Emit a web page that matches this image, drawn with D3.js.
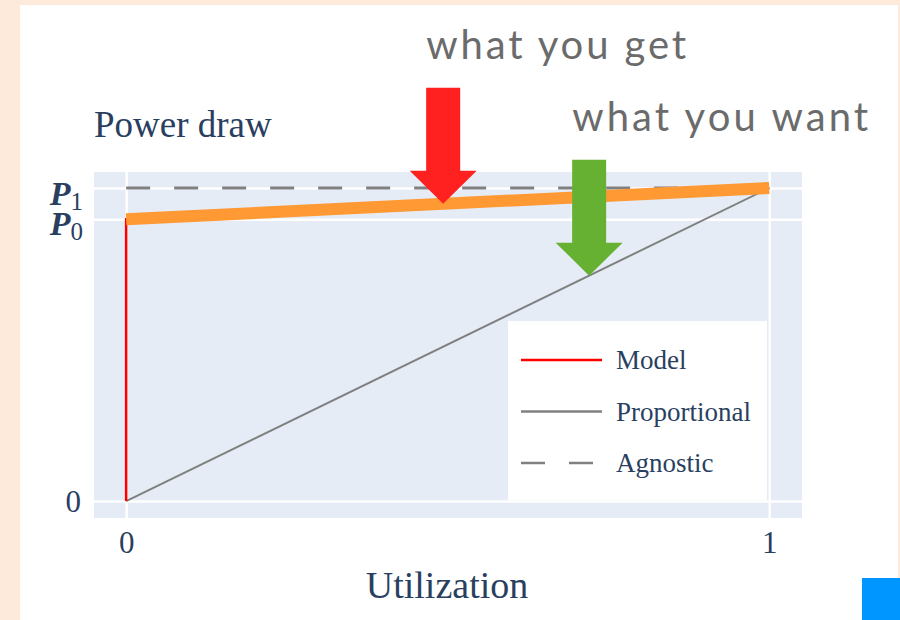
<!DOCTYPE html>
<html>
<head>
<meta charset="utf-8">
<script src="https://cdn.jsdelivr.net/npm/d3@7"></script>
<style>
  body { margin: 0; background: #fdeada; }
  svg { display: block; }
</style>
</head>
<body>
<div id="chart"></div>
<script>
/* Power draw vs utilization: model, proportional and agnostic lines */

// idle and peak power, utilization range
const P0 = 0.9, P1 = 1;

// series
const modelX = [0, 0, 1], modelY = [0, P0, P1];
const propX = [0, 1], propY = [0, P1];
const agnX = [0, 1], agnY = [P1, P1];

// tick labels
const yTicks = [0, P0, P1];
const yTickLabels = ["0", "P0", "P1"];
const xTicks = [0, 1];
const xTickLabels = ["0", "1"];

// arrow annotations (tip in data coords)
const arrowTexts = ["what you get", "what you want"];
const arrowTipX = [0.493, 0.72];
const arrowTipY = [0.95, 0.72];
const arrowTextWidth = [260, 296];
const arrowColors = ["#ff2020", "#66b032"];

const legendNames = ["Model", "Proportional", "Agnostic"];

const width = 900, height = 620,
      margin = ({ top: 172, right: 98, bottom: 102, left: 94 });

let svg = d3.select("#chart")
    .append("svg")
    .attr("width", width)
    .attr("height", height);

// white card
svg.append("rect")
    .attr("x", 20).attr("y", 5)
    .attr("width", 878).attr("height", 620)
    .attr("fill", "white");

let x = d3.scaleLinear()
    .domain([-0.05, 1.051])
    .range([margin.left, width - margin.right]);

let y = d3.scaleLinear()
    .domain([-0.054, 1.051])
    .range([height - margin.bottom, margin.top]);

// plot background
svg.append("rect")
    .attr("x", margin.left).attr("y", margin.top)
    .attr("width", width - margin.left - margin.right)
    .attr("height", height - margin.top - margin.bottom)
    .attr("fill", "#e5ecf6");

// y grid + labels
let yAxis = svg.append("g")
    .attr("transform", `translate(${margin.left},0)`)
    .call(d3.axisLeft(y)
        .tickValues(yTicks)
        .tickSize(-(width - margin.left - margin.right))
        .tickFormat((d, i) => yTickLabels[i]));
yAxis.select(".domain").remove();
yAxis.selectAll("line").attr("stroke", "white").attr("stroke-width", 2.5);
yAxis.selectAll("text")
    .attr("x", -13)
    .attr("fill", "#2a3f5f")
    .attr("font-family", "Liberation Serif")
    .attr("font-size", 31)
    .each(function(d, i) {
        if (i === 0) return;
        let t = d3.select(this).text("")
            .attr("x", -11)
            .attr("dy", i === 1 ? 15 : 17);
        t.append("tspan")
            .attr("font-style", "italic").attr("font-weight", "bold")
            .attr("font-size", 34).text("P");
        t.append("tspan").attr("font-size", 25).attr("dy", 5).text(yTickLabels[i].slice(1));
    });

// x grid + labels
let xAxis = svg.append("g")
    .attr("transform", `translate(0,${height - margin.bottom})`)
    .call(d3.axisBottom(x)
        .tickValues(xTicks)
        .tickSize(-(height - margin.top - margin.bottom))
        .tickFormat((d, i) => xTickLabels[i]));
xAxis.select(".domain").remove();
xAxis.selectAll("line").attr("stroke", "white").attr("stroke-width", 2.5);
xAxis.selectAll("text")
    .attr("y", 13)
    .attr("fill", "#2a3f5f")
    .attr("font-family", "Liberation Serif")
    .attr("font-size", 31);

let line = d3.line()
    .x(d => x(d[0]))
    .y(d => y(d[1]));

// proportional
svg.append("path")
    .datum(d3.zip(propX, propY))
    .attr("d", line)
    .attr("fill", "none")
    .attr("stroke", "grey")
    .attr("stroke-width", 2);

// agnostic
svg.append("path")
    .datum(d3.zip(agnX, agnY))
    .attr("d", line)
    .attr("fill", "none")
    .attr("stroke", "grey")
    .attr("stroke-width", 3)
    .attr("stroke-dasharray", "24,24");

// model
svg.append("path")
    .datum(d3.zip(modelX, modelY))
    .attr("d", line)
    .attr("fill", "none")
    .attr("stroke", "red")
    .attr("stroke-width", 2.5);

// highlight what you get
svg.append("path")
    .datum(d3.zip(modelX.slice(1), modelY.slice(1)))
    .attr("d", line)
    .attr("fill", "none")
    .attr("stroke", "#ff9933")
    .attr("stroke-width", 12);

// legend
let legend = svg.append("g").attr("transform", "translate(508,321)");
legend.append("rect")
    .attr("width", 259).attr("height", 179)
    .attr("fill", "white");
let item = legend.selectAll(".item")
    .data(legendNames)
    .join("g")
    .attr("class", "item")
    .attr("transform", (d, i) => `translate(0,${39 + i * 51.5})`);
item.append("line")
    .attr("x1", 13).attr("x2", 94)
    .attr("stroke", (d, i) => i === 0 ? "red" : "grey")
    .attr("stroke-width", 2.5)
    .attr("stroke-dasharray", (d, i) => i === 2 ? "24,24" : null);
item.append("text")
    .attr("x", 108)
    .attr("dy", "0.35em")
    .attr("fill", "#2a3f5f")
    .attr("font-family", "Liberation Serif")
    .attr("font-size", 27)
    .text(d => d);

// arrows
const shaftW = 34, headW = 67, headH = 33, shaftH = 83;
let arrow = svg.selectAll(".arrow")
    .data(arrowTexts)
    .join("g")
    .attr("class", "arrow")
    .attr("transform", (d, i) => `translate(${x(arrowTipX[i])},${y(arrowTipY[i])})`);
arrow.append("path")
    .attr("fill", (d, i) => arrowColors[i])
    .attr("d", `M0,0 L${-headW / 2},${-headH} L${-shaftW / 2},${-headH} L${-shaftW / 2},${-headH - shaftH}
                L${shaftW / 2},${-headH - shaftH} L${shaftW / 2},${-headH} L${headW / 2},${-headH} Z`);
arrow.append("text")
    .attr("x", -shaftW / 2)
    .attr("y", -headH - shaftH - 29)
    .attr("fill", "#6b6b6b")
    .attr("font-family", "Lato")
    .attr("font-size", 40)
    .attr("textLength", (d, i) => arrowTextWidth[i])
    .attr("lengthAdjust", "spacing")
    .text(d => d);

// titles
svg.append("text")
    .attr("x", 94).attr("y", 137)
    .attr("fill", "#2a3f5f")
    .attr("font-family", "Liberation Serif")
    .attr("font-size", 37)
    .text("Power draw");

svg.append("text")
    .attr("x", 447)
    .attr("y", 598)
    .attr("text-anchor", "middle")
    .attr("fill", "#2a3f5f")
    .attr("font-family", "Liberation Serif")
    .attr("font-size", 38)
    .text("Utilization");

// corner square
svg.append("rect")
    .attr("x", 862).attr("y", 578)
    .attr("width", 38).attr("height", 42)
    .attr("fill", "#0096ff");
</script>
</body>
</html>
